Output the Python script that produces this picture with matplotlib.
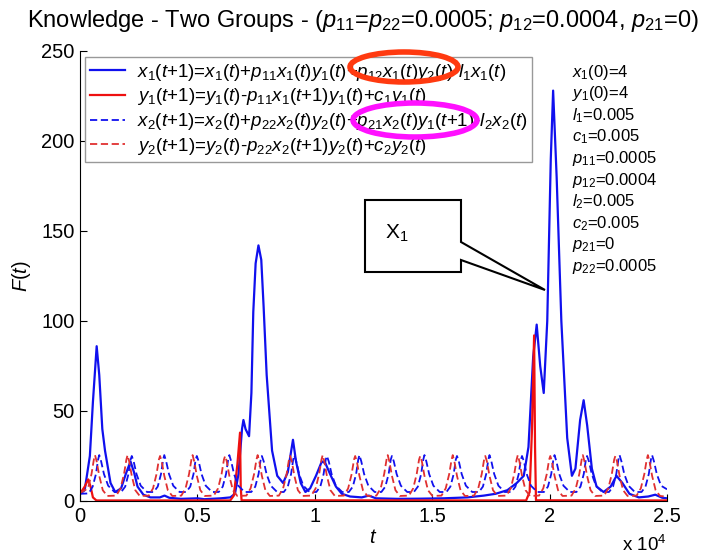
import numpy as np
import matplotlib
matplotlib.use('Agg')
import matplotlib.pyplot as plt
from matplotlib.patches import Ellipse, Polygon

plt.rcParams['font.family'] = ['Liberation Sans', 'DejaVu Sans']
plt.rcParams['mathtext.fontset'] = 'custom'
plt.rcParams['mathtext.rm'] = 'Liberation Sans'
plt.rcParams['mathtext.it'] = 'Liberation Sans:italic'
plt.rcParams['mathtext.bf'] = 'Liberation Sans:bold'

# x1 (solid blue)
x1_t = [0, 200, 420, 550, 710, 820, 950, 1065, 1300, 1500, 1750, 1950, 2150, 2300,
        2450, 2700, 3000, 3400, 3600, 3800, 4300, 5000, 5300, 6000, 6400, 6600, 6750,
        6900, 6960, 7050, 7200, 7300, 7380, 7480, 7600, 7720, 7820, 7950, 8180, 8400,
        8650, 8850, 9070, 9200, 9400, 9600, 9800, 10050, 10300, 10450, 10650, 10900,
        11150, 11500, 12000, 12300, 12600, 13500, 14500, 15500, 16500, 17200, 17700,
        18200, 18600, 18900, 19100, 19300, 19450, 19600, 19750, 19900, 20050, 20150,
        20300, 20500, 20750, 20950, 21100, 21300, 21450, 21600, 21800, 22000, 22300,
        22600, 22850, 23100, 23400, 23800, 24200, 24500, 24800, 25000]
x1_v = [4, 6, 25, 55, 86, 70, 40, 28, 10, 5, 7, 15, 22, 16,
        8, 3.5, 2, 2, 3, 1.8, 1.2, 1.5, 1, 1.5, 2, 4, 15,
        40, 45, 40, 36, 60, 105, 132, 142, 134, 108, 70, 28, 14,
        10, 16, 34, 22, 10, 5, 7, 14, 22, 21, 15, 8,
        4, 2.5, 2, 3, 1.5, 1.2, 1.3, 1.5, 2, 3, 4,
        6, 10, 14, 30, 80, 98, 75, 60, 100, 190, 228,
        180, 100, 35, 14, 18, 45, 56, 42, 18, 8, 5,
        8, 14, 10, 4, 2, 2.5, 3.5, 1.8, 1.5]

# y1 (solid red)
y1_t = [0, 200, 350, 450, 550, 700, 6400, 6550, 6700, 6815, 6845, 6880,
        19000, 19150, 19250, 19340, 19380, 19420, 25000]
y1_v = [4, 8, 12, 8, 2, 0.3, 0.3, 3, 20, 38, 8, 0.4,
        0.3, 5, 40, 92, 30, 0.4, 0.3]

# x2 (dashed blue), one row per oscillation
x2_rows_t = [
    [0, 370, 540, 680, 770, 820, 900, 1020, 1200, 1470],
    [1755, 1925, 2065, 2155, 2205, 2285, 2405, 2585, 2855],
    [3140, 3310, 3450, 3540, 3590, 3670, 3790, 3970, 4240],
    [4525, 4695, 4835, 4925, 4975, 5055, 5175, 5355, 5625],
    [5910, 6080, 6220, 6310, 6360, 6440, 6560, 6740, 7010],
    [7295, 7465, 7605, 7695, 7745, 7825, 7945, 8125, 8395],
    [8680, 8850, 8990, 9080, 9130, 9210, 9330, 9510, 9780],
    [10065, 10235, 10375, 10465, 10515, 10595, 10715, 10895, 11165],
    [11450, 11620, 11760, 11850, 11900, 11980, 12100, 12280, 12550],
    [12835, 13005, 13145, 13235, 13285, 13365, 13485, 13665, 13935],
    [14220, 14390, 14530, 14620, 14670, 14750, 14870, 15050, 15320],
    [15605, 15775, 15915, 16005, 16055, 16135, 16255, 16435, 16705],
    [16990, 17160, 17300, 17390, 17440, 17520, 17640, 17820, 18090],
    [18375, 18545, 18685, 18775, 18825, 18905, 19025, 19205, 19475],
    [19760, 19930, 20070, 20160, 20210, 20290, 20410, 20590, 20860],
    [21145, 21315, 21455, 21545, 21595, 21675, 21795, 21975, 22245],
    [22530, 22700, 22840, 22930, 22980, 23060, 23180, 23360, 23630],
    [23915, 24085, 24225, 24315, 24365, 24445, 24565, 24745, 25000]]
x2_rows_v = [
    [4, 4.2, 8, 15, 23, 25.5, 22, 15, 8.5, 5],
    [5, 8, 15, 23, 25, 22, 15, 8.5, 5],
    [5, 8, 15, 23, 25.5, 22, 15, 8.5, 5],
    [5, 8, 15, 23, 25, 22, 15, 8.5, 5],
    [5, 8, 15, 23, 25.5, 22, 15, 8.5, 5],
    [5, 8, 15, 23, 25, 22, 15, 8.5, 5],
    [5, 8, 15, 23, 25.5, 22, 15, 8.5, 5],
    [5, 8, 15, 23, 25, 22, 15, 8.5, 5],
    [5, 8, 15, 23, 25.5, 22, 15, 8.5, 5],
    [5, 8, 15, 23, 25, 22, 15, 8.5, 5],
    [5, 8, 15, 23, 25.5, 22, 15, 8.5, 5],
    [5, 8, 15, 23, 25, 22, 15, 8.5, 5],
    [5, 8, 15, 23, 25.5, 22, 15, 8.5, 5],
    [5, 8, 15, 23, 25, 22, 15, 8.5, 5],
    [5, 8, 15, 23, 25.5, 22, 15, 8.5, 5],
    [5, 8, 15, 23, 25, 22, 15, 8.5, 5],
    [5, 8, 15, 23, 25.5, 22, 15, 8.5, 5],
    [5, 8, 15, 23, 25.5, 22, 15, 8.5, 6.5]]

# y2 (dashed red), one row per oscillation
y2_rows_t = [
    [0, 340, 490, 590, 640, 710, 820, 970, 1160],
    [1545, 1725, 1875, 1975, 2025, 2095, 2205, 2355, 2545],
    [2930, 3110, 3260, 3360, 3410, 3480, 3590, 3740, 3930],
    [4315, 4495, 4645, 4745, 4795, 4865, 4975, 5125, 5315],
    [5700, 5880, 6030, 6130, 6180, 6250, 6360, 6510, 6700],
    [7085, 7265, 7415, 7515, 7565, 7635, 7745, 7895, 8085],
    [8470, 8650, 8800, 8900, 8950, 9020, 9130, 9280, 9470],
    [9855, 10035, 10185, 10285, 10335, 10405, 10515, 10665, 10855],
    [11240, 11420, 11570, 11670, 11720, 11790, 11900, 12050, 12240],
    [12625, 12805, 12955, 13055, 13105, 13175, 13285, 13435, 13625],
    [14010, 14190, 14340, 14440, 14490, 14560, 14670, 14820, 15010],
    [15395, 15575, 15725, 15825, 15875, 15945, 16055, 16205, 16395],
    [16780, 16960, 17110, 17210, 17260, 17330, 17440, 17590, 17780],
    [18165, 18345, 18495, 18595, 18645, 18715, 18825, 18975, 19165],
    [19550, 19730, 19880, 19980, 20030, 20100, 20210, 20360, 20550],
    [20935, 21115, 21265, 21365, 21415, 21485, 21595, 21745, 21935],
    [22320, 22500, 22650, 22750, 22800, 22870, 22980, 23130, 23320],
    [23705, 23885, 24035, 24135, 24185, 24255, 24365, 24515, 24705, 25000]]
y2_rows_v = [
    [4.5, 7, 15, 23, 25.5, 22, 14, 6, 2.8],
    [3, 7, 15, 23, 25.5, 22, 14, 6, 2.8],
    [3, 7, 15, 23, 25, 22, 14, 6, 2.8],
    [3, 7, 15, 23, 25.5, 22, 14, 6, 2.8],
    [3, 7, 15, 23, 25, 22, 14, 6, 2.8],
    [3, 7, 15, 23, 25.5, 22, 14, 6, 2.8],
    [3, 7, 15, 23, 25, 22, 14, 6, 2.8],
    [3, 7, 15, 23, 25.5, 22, 14, 6, 2.8],
    [3, 7, 15, 23, 25, 22, 14, 6, 2.8],
    [3, 7, 15, 23, 25.5, 22, 14, 6, 2.8],
    [3, 7, 15, 23, 25, 22, 14, 6, 2.8],
    [3, 7, 15, 23, 25.5, 22, 14, 6, 2.8],
    [3, 7, 15, 23, 25, 22, 14, 6, 2.8],
    [3, 7, 15, 23, 25.5, 22, 14, 6, 2.8],
    [3, 7, 15, 23, 25, 22, 14, 6, 2.8],
    [3, 7, 15, 23, 25.5, 22, 14, 6, 2.8],
    [3, 7, 15, 23, 25, 22, 14, 6, 2.8],
    [3, 7, 15, 23, 25.5, 22, 14, 6, 2.8, 2.4]]

x2_t = sum(x2_rows_t, [])
x2_v = sum(x2_rows_v, [])
y2_t = sum(y2_rows_t, [])
y2_v = sum(y2_rows_v, [])

labels = [r'$x_1$($t$+1)=$x_1$($t$)+$p_{11}x_1$($t$)$y_1$($t$)+$p_{12}x_1$($t$)$y_2$($t$)-$l_1x_1$($t$)',
          r'$y_1$($t$+1)=$y_1$($t$)-$p_{11}x_1$($t$+1)$y_1$($t$)+$c_1y_1$($t$)',
          r'$x_2$($t$+1)=$x_2$($t$)+$p_{22}x_2$($t$)$y_2$($t$)+$p_{21}x_2$($t$)$y_1$($t$+1)-$l_2x_2$($t$)',
          r'$y_2$($t$+1)=$y_2$($t$)-$p_{22}x_2$($t$+1)$y_2$($t$)+$c_2y_2$($t$)']

params = [r'$x_1$(0)=4', r'$y_1$(0)=4', r'$l_1$=0.005', r'$c_1$=0.005',
          r'$p_{11}$=0.0005', r'$p_{12}$=0.0004', r'$l_2$=0.005', r'$c_2$=0.005',
          r'$p_{21}$=0', r'$p_{22}$=0.0005']

xticks = [0, 5000, 10000, 15000, 20000, 25000]
xticklabels = ['0', '0.5', '1', '1.5', '2', '2.5']
yticks = [0, 50, 100, 150, 200, 250]

W, H = 704, 556


def fx(px):
    return px / W


def fy(py):
    return 1 - py / H


fig = plt.figure(figsize=(7.04, 5.56), dpi=100)
ax = fig.add_axes([fx(80), fy(501), 587 / W, 450 / H])

blue = '#1010ee'
red = '#ee1010'
ax.plot(x1_t, x1_v, color=blue, lw=1.6, label=labels[0])
ax.plot(y1_t, y1_v, color=red, lw=1.6, label=labels[1])
ax.plot(x2_t, x2_v, color=blue, lw=1.3, ls='--', dashes=(4, 2), label=labels[2])
ax.plot(y2_t, y2_v, color='#e03030', lw=1.3, ls='--', dashes=(4, 2), label=labels[3])

ax.set_xlim(0, 25000)
ax.set_ylim(0, 250)
ax.set_xticks(xticks)
ax.set_xticklabels(xticklabels)
ax.set_yticks(yticks)
ax.tick_params(direction='in', length=5, labelsize=14.5, pad=4)
for s in ['top', 'right']:
    ax.spines[s].set_visible(False)
ax.set_xlabel('$t$', fontsize=14.5, labelpad=2)
ax.set_ylabel('$F(t)$', fontsize=14.5, labelpad=6)

leg = ax.legend(loc='upper left', bbox_to_anchor=(fx(85), fy(57)),
                bbox_transform=fig.transFigure, borderaxespad=0,
                fontsize=13.5, handlelength=1.9, handletextpad=0.6,
                fancybox=False, edgecolor='#999999', framealpha=1,
                labelspacing=0.2, borderpad=0.25)
leg.get_frame().set_linewidth(1.0)

fig.text(0.515, fy(21), r'Knowledge - Two Groups - ($p_{11}$=$p_{22}$=0.0005; $p_{12}$=0.0004, $p_{21}$=0)',
         fontsize=17, ha='center', va='center')

for i, p in enumerate(params):
    fig.text(fx(572), fy(72 + i * 21.6), p, fontsize=12, ha='left', va='center')

fig.text(fx(622), fy(551), r'x 10$^4$', fontsize=13.5, ha='left', va='baseline')

# callout box
pts = [(365, 200), (461, 200), (461, 242), (545, 290), (461, 260), (461, 272), (365, 272)]
fig.add_artist(Polygon([(fx(a), fy(b)) for a, b in pts], closed=True,
                       transform=fig.transFigure, fc='white', ec='black', lw=1.5))
fig.text(fx(385), fy(233), r'X$_1$', fontsize=15, ha='left', va='center')

# highlight ellipses
fig.add_artist(Ellipse((fx(404), fy(67)), 108 / W, 30 / H, transform=fig.transFigure,
                       fill=False, ec='#ff3a10', lw=4))
fig.add_artist(Ellipse((fx(415), fy(120)), 124 / W, 34 / H, transform=fig.transFigure,
                       fill=False, ec='#ff10ff', lw=4))

fig.savefig('out.png', dpi=100)
